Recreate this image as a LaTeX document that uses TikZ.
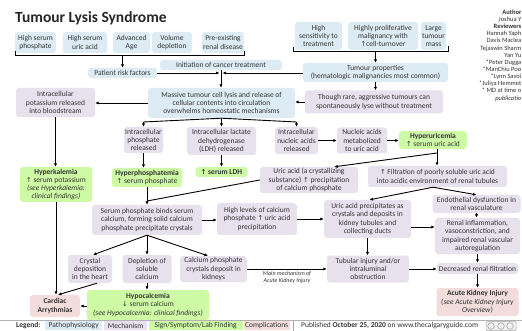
\documentclass[tikz,border=0pt]{standalone}
\usepackage{fontspec}
\setmainfont{Carlito}
\newfontfamily\symf[Scale=0.9]{DejaVu Sans}
\usetikzlibrary{arrows.meta}
\definecolor{pathoc}{RGB}{221,235,245}
\definecolor{mechc}{RGB}{230,225,237}
\definecolor{signc}{RGB}{206,250,165}
\definecolor{compc}{RGB}{242,221,220}
\newcommand{\upa}{{\symf ↑}}
\newcommand{\dna}{{\symf ↓}}
\newcommand{\lgfont}{\fontsize{7.5}{8}\selectfont}

\begin{document}
\begin{tikzpicture}[x=1pt, y=-1pt,
    box/.style={rounded corners=3pt, align=center, inner xsep=1pt, inner ysep=0.5pt, text=black!80, font=\fontsize{7.5}{8.2}\selectfont},
    pbox/.style={box, fill=pathoc},
    mbox/.style={box, fill=mechc},
    sbox/.style={box, fill=signc},
    cbox/.style={box, fill=compc},
    sz/.style 2 args={minimum width=#1pt, minimum height=#2pt},
    arr/.style={-{Latex[length=3.5pt,width=3.2pt]}, line width=0.9pt},
    ln/.style={line width=0.9pt},
    lgbox/.style={anchor=west, inner sep=0pt, minimum height=9pt, font=\lgfont, text=black!80}]
    \fill[white] (0,0) rectangle (522,331);
    \useasboundingbox (0,0) rectangle (522,331);

    % Title and authors
    \node[anchor=west, inner sep=0, font=\fontsize{15.5}{17}\selectfont\bfseries, text=black!85] (title) at (15,18) {Tumour Lysis Syndrome};
    \node[anchor=north east, align=right, inner sep=0, font=\fontsize{6.5}{7.15}\selectfont, text=black!80] (auth) at (521.5,9.5)
        {\textbf{Author}\\Joshua Y\\\textbf{Reviewers}\\Hannah Yaph\\Davis Maclea\\Tejaswin Sharm\\Yan Yu\\*Peter Dugga\\*ManChiu Poo\\*Lynn Savoi\\*Juliya Hemmet\\* MD at time o\\\textit{publicatio}};

    % Patient risk factors
    \node[pbox, sz={41}{21}] (hsp) at (35.5,42.5) {High serum\\phosphate};
    \node[pbox, sz={44}{21}] (hsu) at (85,42.5) {High serum\\uric acid};
    \node[pbox, sz={37}{21}] (age) at (131.5,42.5) {Advanced\\Age};
    \node[pbox, sz={40}{21}] (vol) at (172,42.5) {Volume\\depletion};
    \node[pbox, sz={42}{21}] (pre) at (223,42.5) {Pre-existing\\renal disease};
    \draw[ln] (15,51) -- (15,55) -- (244,55) -- (244,51);
    \node[pbox, sz={69}{10}] (risk) at (122.5,73) {Patient risk factors};
    \draw[arr] (122.5,55) -- (risk.north);

    % Tumour properties
    \node[pbox, sz={47}{28}] (sens) at (318.5,36) {High\\sensitivity to\\treatment};
    \node[pbox, sz={70}{28}] (prolif) at (383,36) {Highly proliferative\\malignancy with\\\upa cell-turnover};
    \node[pbox, sz={24}{28}] (lgmass) at (433.5,36) {Large\\tumour\\mass};
    \draw[ln] (293,47) -- (293,51) -- (448,51) -- (448,46);
    \node[pbox, sz={145}{19}] (tp) at (375.5,72.5) {Tumour properties\\(hematologic malignancies most common)};
    \draw[arr] (375.5,51) -- (tp.north);

    % Lysis
    \node[pbox, sz={122}{10}] (init) at (221,65) {Initiation of cancer treatment};
    \node[pbox, sz={147}{30}] (lysis) at (221.5,103) {Massive tumour cell lysis and release of\\cellular contents into circulation\\overwhelms homeostatic mechanisms};
    \node[mbox, sz={138}{23}] (rare) at (374,102) {Though rare, aggressive tumours can\\spontaneously lyse without treatment};
    \node[mbox, sz={79}{29}] (kout) at (55.5,102.5) {Intracellular\\potassium released\\into bloodstream};
    \draw[arr] (risk.east) -- ([xshift=-1.5pt]risk.east -| init.south);
    \draw[arr] (tp.west |- risk.east) -- ([xshift=1.5pt]risk.east -| init.south);
    \draw[arr] (init.south) -- (init.south |- lysis.north);
    \draw[arr] (tp.south) -- (tp.south |- rare.north);
    \draw[arr] (rare.west) -- (rare.west -| lysis.east);
    \draw[arr] (lysis.west) -- (lysis.west -| kout.east);

    % Released contents
    \node[mbox, sz={39}{26}] (phos) at (143.5,140) {Intracellular\\phosphate\\released};
    \node[mbox, sz={69}{28}] (ldh) at (221.5,141) {Intracellular lactate\\dehydrogenase\\(LDH) released};
    \node[mbox, sz={43}{27}] (nucl) at (296.5,140.5) {Intracellular\\nucleic acids\\released};
    \node[mbox, sz={50}{26}] (meta) at (362,140.5) {Nucleic acids\\metabolized\\to uric acid};
    \node[sbox, sz={68}{18}] (hyu) at (433,140) {\textbf{Hyperuricemia}\\\upa\ serum uric acid};
    \coordinate (bl) at (143.5,122);
    \coordinate (br) at (296.5,122);
    \draw[ln] (lysis.south) -- (bl);
    \draw[ln] (lysis.south) -- (br);
    \draw[arr] (bl) -- (phos.north);
    \draw[arr] (br) -- (nucl.north);
    \draw[arr] (lysis.south) -- (ldh.north);
    \draw[arr] (nucl.east) -- (meta.west);
    \draw[arr] (meta.east) -- (hyu.west |- meta.east);

    % Lab findings
    \node[sbox, sz={52}{10}] (sldh) at (221.5,172) {\textbf{\upa\ serum LDH}};
    \node[sbox, sz={70}{19}] (hyp) at (147,177.5) {\textbf{Hyperphosphatemia}\\\upa\ serum phosphate};
    \node[sbox, sz={72}{35}] (hyk) at (56,184.5) {\textbf{Hyperkalemia}\\\upa\ serum potassium\\\textit{(see Hyperkalemia:}\\\textit{clinical findings)}};
    \draw[arr] (ldh.south) -- (sldh.north);
    \draw[arr] (phos.south) -- (phos.south |- hyp.north);
    \draw[arr] (kout.south) -- (kout.south |- hyk.north);

    % Uric acid
    \node[mbox, sz={98}{26}] (uric) at (309,180) {Uric acid (a crystallizing\\substance) \upa\ precipitation\\of calcium phosphate};
    \node[mbox, sz={139}{21}] (filt) at (437.5,176.5) {\upa\ Filtration of poorly soluble uric acid\\into acidic environment of renal tubules};
    \coordinate (hu) at (437,153);
    \draw[ln] (hu |- hyu.south) -- (hu);
    \draw[arr] (hu) -- (hu |- filt.north);
    \draw[arr] (hu) -- ([xshift=-24pt]uric.north east);

    % Calcium phosphate
    \node[mbox, sz={110}{30}] (spb) at (147,220) {Serum phosphate binds serum\\calcium, forming solid calcium\\phosphate precipitate crystals};
    \coordinate (sj) at (147,201);
    \draw[ln] (hyp.south) -- (sj);
    \draw[ln] (uric.west) -- (sj);
    \draw[arr] (sj) -- (spb.north);
    \node[mbox, sz={80}{32}] (hlev) at (257,219) {High levels of calcium\\phosphate \upa\ uric acid\\precipitation};
    \node[mbox, sz={87}{38}] (upr) at (367.5,219) {Uric acid precipitates as\\crystals and deposits in\\kidney tubules and\\collecting ducts};
    \draw[arr] (spb.east) -- (spb.east -| hlev.west);
    \draw[arr] (hlev.east) -- (hlev.east -| upr.west);

    % Kidney
    \node[mbox, sz={88}{18}] (endo) at (476.5,204) {Endothelial dysfunction in\\renal vasculature};
    \node[mbox, sz={85}{36}] (infl) at (477.5,236) {Renal inflammation,\\vasoconstriction, and\\impaired renal vascular\\autoregulation};
    \node[mbox, sz={82}{27}] (tub) at (368,269) {Tubular injury and/or\\intraluminal\\obstruction};
    \node[mbox, sz={81}{11}] (dec) at (477.5,268.5) {Decreased renal filtration};
    \node[cbox, sz={82}{28}] (aki) at (477.5,302) {\textbf{Acute Kidney Injury}\\\textit{(see Acute Kidney Injury}\\\textit{Overview)}};
    \draw[arr] ([xshift=-4.5pt]filt.south) -- ([xshift=2pt]upr.north);
    \draw[arr] ([xshift=-4.5pt]filt.south) -- (endo.north);
    \draw[arr] (endo.south) -- (endo.south |- infl.north);
    \draw[arr] (upr.east |- 0,227) -- (infl.west |- 0,227);
    \draw[arr] (upr.south) -- (upr.south |- tub.north);
    \draw[arr] (tub.east) -- (tub.east -| dec.west);
    \draw[arr] (infl.south) -- (infl.south |- dec.north);
    \draw[arr] (dec.south) -- (dec.south |- aki.north);

    % Complications of calcium phosphate
    \node[mbox, sz={44}{28}] (cdh) at (90,269) {Crystal\\deposition\\in the heart};
    \node[mbox, sz={49}{28}] (dep) at (147,269) {Depletion of\\soluble\\calcium};
    \node[mbox, sz={67}{26}] (ckd) at (213.5,269) {Calcium phosphate\\crystals deposit in\\kidneys};
    \node[cbox, sz={50}{22}] (card) at (55,306) {\textbf{Cardiac}\\\textbf{Arrythmias}};
    \node[sbox, sz={122}{30}] (hyc) at (148,305) {\textbf{Hypocalcemia}\\\dna\ serum calcium\\\textit{(see Hypocalcemia: clinical findings)}};
    \draw[arr] (spb.south) -- ([xshift=3pt]cdh.north);
    \draw[arr] (spb.south) -- (spb.south |- dep.north);
    \draw[arr] (spb.south) -- ([xshift=-5.5pt]ckd.north);
    \draw[arr] (dep.south) -- (dep.south |- hyc.north);
    \draw[arr] (hyk.south) -- (hyk.south |- card.north);
    \draw[arr] ([xshift=7pt]cdh.south) -- ([xshift=3pt]card.north);
    \draw[arr] (hyc.west |- card.east) -- (card.east);
    \draw[arr] (ckd.east) -- (ckd.east -| tub.west)
        node[midway, below, align=center, inner sep=1.5pt, font=\fontsize{6}{7}\selectfont\itshape, text=black!80] (akilbl) {Main mechanism of\\Acute Kidney Injury};

    % Legend
    \draw[gray!60, line width=0.8pt] (0,320) -- (522,320);
    \node[lgbox, font=\lgfont\bfseries] (lg) at (16,325.5) {Legend:};
    \node[lgbox, fill=pathoc, minimum width=57pt] (lgp) at (45,325.5) {Pathophysiology};
    \node[lgbox, fill=mechc, minimum width=43pt] (lgm) at (104,325.5) {Mechanism};
    \node[lgbox, fill=signc, minimum width=94pt] (lgs) at (148.5,325.5) {Sign/Symptom/Lab Finding};
    \node[lgbox, fill=compc, minimum width=46pt] (lgc) at (243.5,325.5) {Complications};
    \draw[gray!70, line width=0.8pt] (293,320) -- (293,331);
    \node[lgbox] (pub) at (301,325.5) {Published \textbf{October 25, 2020} on www.thecalgaryguide.com};
    \draw[gray!70, fill=gray!10, rounded corners=1pt, line width=0.5pt] (486,321.5) rectangle (516,330.5);
    \foreach \cx in {491,501,510}
        \draw[gray!70, line width=0.6pt] (\cx,326) circle (3.3pt);
\end{tikzpicture}
\end{document}
